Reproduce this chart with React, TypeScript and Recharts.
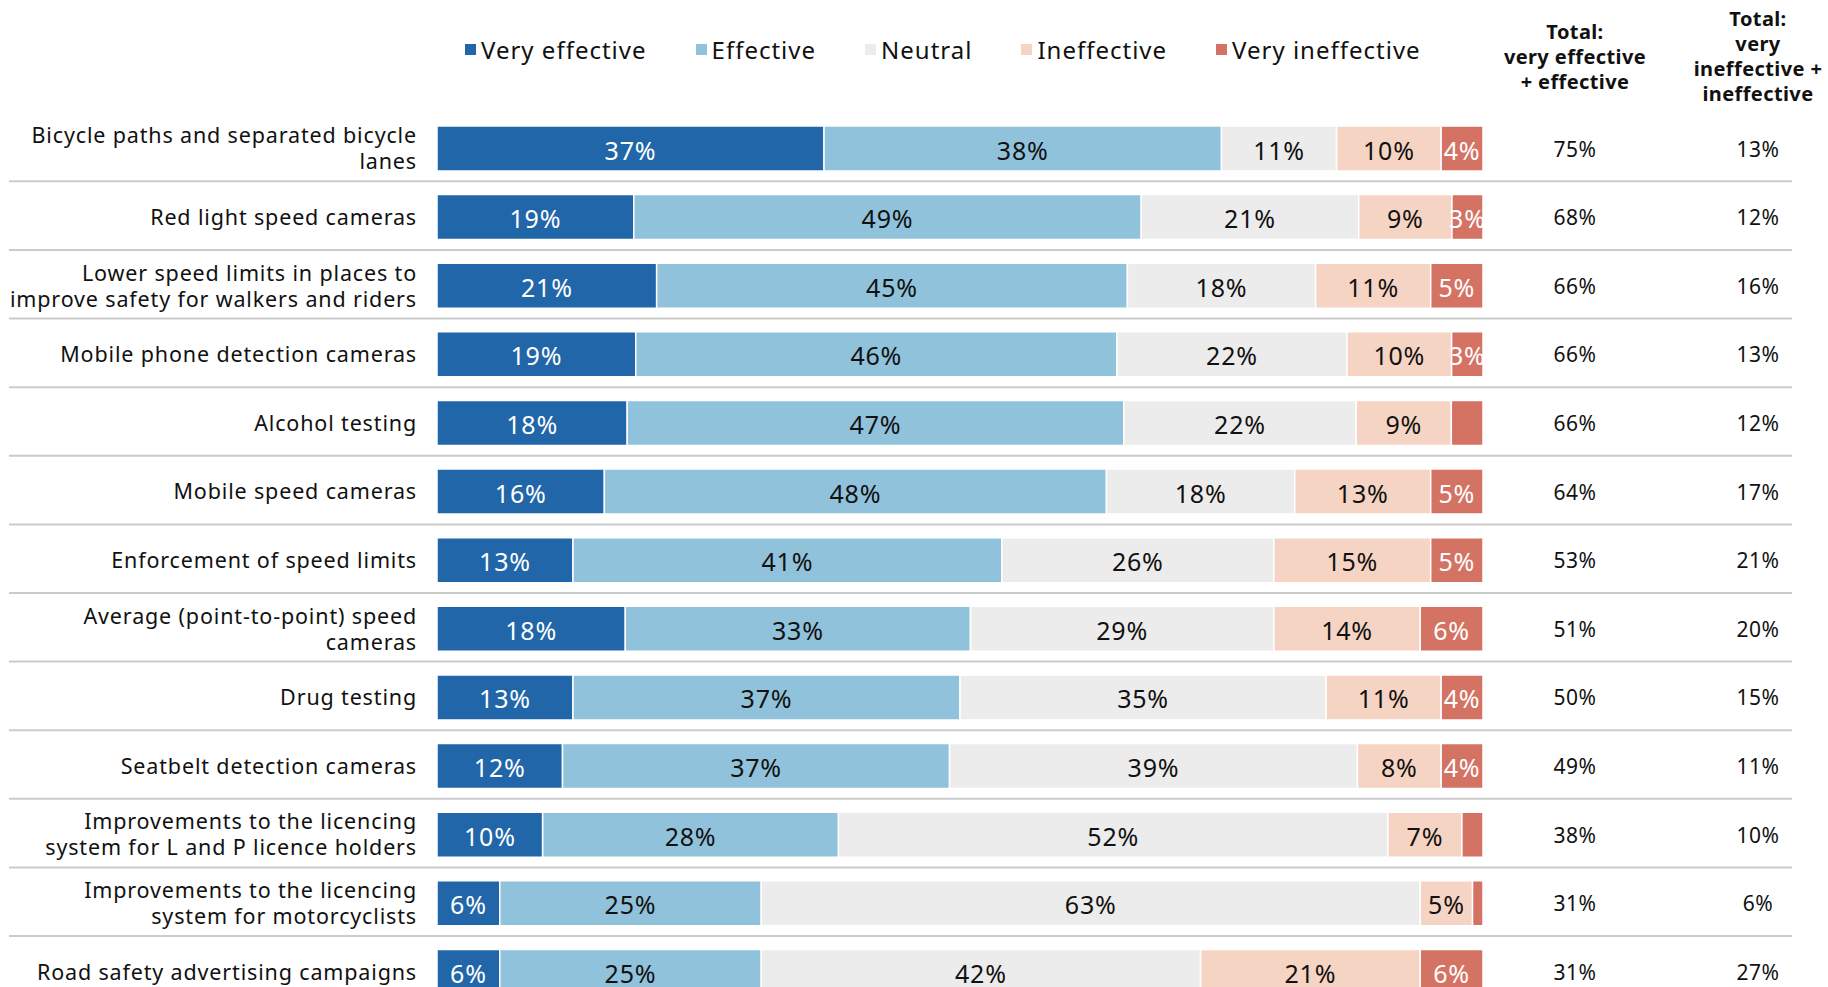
import React from 'react';
import { BarChart, Bar, XAxis, YAxis, LabelList } from 'recharts';

const categories = [
  'Bicycle paths and separated bicycle\nlanes',
  'Red light speed cameras',
  'Lower speed limits in places to\nimprove safety for walkers and riders',
  'Mobile phone detection cameras',
  'Alcohol testing',
  'Mobile speed cameras',
  'Enforcement of speed limits',
  'Average (point-to-point) speed\ncameras',
  'Drug testing',
  'Seatbelt detection cameras',
  'Improvements to the licencing\nsystem for L and P licence holders',
  'Improvements to the licencing\nsystem for motorcyclists',
  'Road safety advertising campaigns',
];

const veryEffective = [37, 19, 21, 19, 18, 16, 13, 18, 13, 12, 10, 6, 6];
const effective = [38, 49, 45, 46, 47, 48, 41, 33, 37, 37, 28, 25, 25];
const neutral = [11, 21, 18, 22, 22, 18, 26, 29, 35, 39, 52, 63, 42];
const ineffective = [10, 9, 11, 10, 9, 13, 15, 14, 11, 8, 7, 5, 21];
const veryIneffective = [4, 3, 5, 3, 3, 5, 5, 6, 4, 4, 2, 1, 6];
// labels not printed in the original for these very-ineffective segments
const hiddenVeryIneffectiveLabel = [false, false, false, false, true, false, false, false, false, false, true, true, false];

const totalEffective = ['75%', '68%', '66%', '66%', '66%', '64%', '53%', '51%', '50%', '49%', '38%', '31%', '31%'];
const totalIneffective = ['13%', '12%', '16%', '13%', '12%', '17%', '21%', '20%', '15%', '11%', '10%', '6%', '27%'];

const headerEffective = ['Total:', 'very effective', '+ effective'];
const headerIneffective = ['Total:', 'very', 'ineffective +', 'ineffective'];

const series = [
  { key: 'veryEffective', name: 'Very effective', color: '#2166a9', text: '#ffffff' },
  { key: 'effective', name: 'Effective', color: '#90c2dc', text: '#111111' },
  { key: 'neutral', name: 'Neutral', color: '#ececec', text: '#111111' },
  { key: 'ineffective', name: 'Ineffective', color: '#f6d4c3', text: '#111111' },
  { key: 'veryIneffective', name: 'Very ineffective', color: '#d47363', text: '#ffffff' },
];

const data = categories.map((name, i) => ({
  name,
  veryEffective: veryEffective[i],
  effective: effective[i],
  neutral: neutral[i],
  ineffective: ineffective[i],
  veryIneffective: veryIneffective[i],
  totalEffective: totalEffective[i],
  totalIneffective: totalIneffective[i],
}));

const FONT = "'Noto Sans', sans-serif";

const LeftTick = (props: any) => {
  const { x, y, payload } = props;
  const idx = categories.indexOf(payload.value);
  const lines = String(payload.value).split('\n');
  const lh = 26;
  const tx = x - 12;
  const startY = y - 1 - ((lines.length - 1) * lh) / 2;
  return (
    <g>
      <text
        x={tx}
        y={startY}
        textAnchor="end"
        dominantBaseline="central"
        fontSize={21.5}
        letterSpacing={0.85}
        fill="#111"
        fontFamily={FONT}
      >
        {lines.map((l, i) => (
          <tspan key={i} x={tx} dy={i === 0 ? 0 : lh}>
            {l}
          </tspan>
        ))}
      </text>
      {idx >= 0 && idx < categories.length - 1 && (
        <line x1={9} x2={1792} y1={y + 33} y2={y + 33} stroke="#cbcbcb" strokeWidth={2} />
      )}
    </g>
  );
};

const makeSegLabel = (s: any) => (props: any) => {
  const { x, y, width, height, value, index } = props;
  if (s.key === 'veryIneffective' && hiddenVeryIneffectiveLabel[index]) return null;
  return (
    <text
      x={x + width / 2}
      y={y + height / 2 + 1}
      textAnchor="middle"
      dominantBaseline="central"
      fontSize={25}
      letterSpacing={0.8}
      fill={s.text}
      fontFamily={FONT}
    >
      {`${value}%`}
    </text>
  );
};

const makeTotalLabel = (dx: number) => (props: any) => {
  const { x, y, width, height, value } = props;
  return (
    <text
      x={x + width + dx}
      y={y + height / 2}
      textAnchor="middle"
      dominantBaseline="central"
      fontSize={21}
      letterSpacing={0.5}
      fill="#111"
      fontFamily={FONT}
    >
      {value}
    </text>
  );
};

const headerStyle = (cx: number, top: number): React.CSSProperties => ({
  position: 'absolute',
  left: cx - 110,
  width: 220,
  top,
  textAlign: 'center',
  fontFamily: FONT,
  fontWeight: 700,
  fontSize: 20,
  letterSpacing: 0.4,
  lineHeight: '25px',
  color: '#111',
  whiteSpace: 'nowrap',
});

export default function App() {
  return (
    <div
      style={{
        position: 'absolute',
        left: 0,
        top: 0,
        width: 1828,
        height: 987,
        overflow: 'hidden',
        background: '#fff',
      }}
    >
      <div
        style={{
          position: 'absolute',
          left: 465,
          top: 33,
          display: 'flex',
          alignItems: 'center',
          fontFamily: FONT,
          fontSize: 24,
          letterSpacing: 1,
          color: '#111',
          whiteSpace: 'nowrap',
        }}
      >
        {series.map((s) => (
          <div key={s.key} style={{ display: 'flex', alignItems: 'center', marginRight: 49 }}>
            <span style={{ width: 11, height: 11, background: s.color, marginRight: 5, display: 'inline-block' }} />
            <span>{s.name}</span>
          </div>
        ))}
      </div>
      <div style={headerStyle(1575, 19)}>
        {headerEffective.map((t, i) => (
          <div key={i}>{t}</div>
        ))}
      </div>
      <div style={headerStyle(1758, 6)}>
        {headerIneffective.map((t, i) => (
          <div key={i}>{t}</div>
        ))}
      </div>
      <BarChart
        width={1828}
        height={1010}
        data={data}
        layout="vertical"
        stackOffset="expand"
        margin={{ top: 114, right: 345, bottom: 4, left: 0 }}
        barSize={45}
      >
        <XAxis type="number" hide domain={[0, 1]} />
        <YAxis
          type="category"
          dataKey="name"
          width={437}
          tickLine={false}
          axisLine={false}
          tick={<LeftTick />}
          interval={0}
        />
        {series.map((s) => (
          <Bar
            key={s.key}
            dataKey={s.key}
            name={s.name}
            stackId="a"
            fill={s.color}
            stroke="#ffffff"
            strokeWidth={1.5}
            isAnimationActive={false}
          >
            <LabelList dataKey={s.key} content={makeSegLabel(s)} />
            {s.key === 'veryIneffective' && (
              <LabelList dataKey="totalEffective" content={makeTotalLabel(92)} />
            )}
            {s.key === 'veryIneffective' && (
              <LabelList dataKey="totalIneffective" content={makeTotalLabel(275)} />
            )}
          </Bar>
        ))}
      </BarChart>
    </div>
  );
}
